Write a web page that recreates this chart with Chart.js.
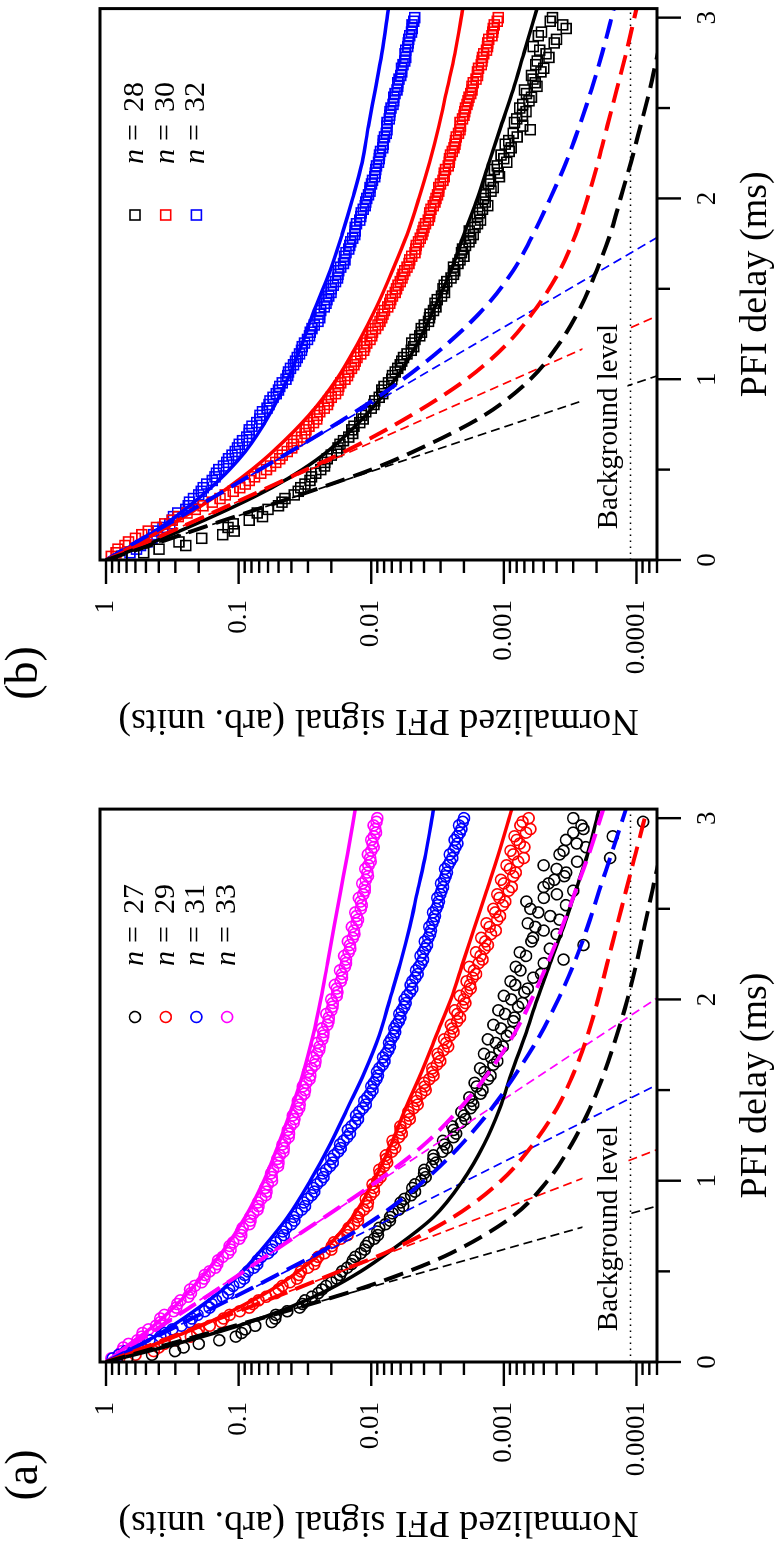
<!DOCTYPE html>
<html>
<head>
<meta charset="utf-8">
<script src="https://cdn.jsdelivr.net/npm/chart.js@4.4.0/dist/chart.umd.min.js"></script>
<style>
  html, body { margin: 0; padding: 0; background: #fff; overflow: hidden; }
  #page { position: absolute; left: 0; top: 0; width: 1544px; height: 775px;
          transform-origin: 0 0; transform: translateY(1544px) rotate(-90deg); }
  #page canvas { position: absolute; top: 0; }
  #chartA { left: 0; }
  #chartB { left: 802px; }
</style>
</head>
<body>
<div id="page">
  <canvas id="chartA" width="742" height="775"></canvas>
  <canvas id="chartB" width="742" height="775"></canvas>
</div>
<script>
// measured PFI delays (ms), two interleaved halves of the scan
const delay = [0.02, 0.06, 0.10, 0.14, 0.18, 0.22, 0.26, 0.30, 0.34, 0.38, 0.42, 0.46, 0.50, 0.54, 0.58,
  0.62, 0.66, 0.70, 0.74, 0.78, 0.82, 0.86, 0.90, 0.94, 0.98, 1.02, 1.06, 1.10, 1.14, 1.18, 1.22, 1.26,
  1.30, 1.34, 1.38, 1.42, 1.46, 1.50, 1.54, 1.58, 1.62, 1.66, 1.70, 1.74, 1.78, 1.82, 1.86, 1.90, 1.94,
  1.98, 2.02, 2.06, 2.10, 2.14, 2.18, 2.22, 2.26, 2.30, 2.34, 2.38, 2.42, 2.46, 2.50, 2.54, 2.58, 2.62,
  2.66, 2.70, 2.74, 2.78, 2.82, 2.86, 2.90, 2.94, 2.98]
const delayMid = [0.04, 0.08, 0.12, 0.16, 0.20, 0.24, 0.28, 0.32, 0.36, 0.40, 0.44, 0.48, 0.52, 0.56, 0.60,
  0.64, 0.68, 0.72, 0.76, 0.80, 0.84, 0.88, 0.92, 0.96, 1.00, 1.04, 1.08, 1.12, 1.16, 1.20, 1.24, 1.28,
  1.32, 1.36, 1.40, 1.44, 1.48, 1.52, 1.56, 1.60, 1.64, 1.68, 1.72, 1.76, 1.80, 1.84, 1.88, 1.92, 1.96,
  2.00, 2.04, 2.08, 2.12, 2.16, 2.20, 2.24, 2.28, 2.32, 2.36, 2.40, 2.44, 2.48, 2.52, 2.56, 2.60, 2.64,
  2.68, 2.72, 2.76, 2.80, 2.84, 2.88, 2.92, 2.96, 3.00]
// delays for the model curves (ms)
const curveDelay = [0, 0.1, 0.2, 0.3, 0.4, 0.5, 0.6, 0.8, 1.0, 1.2, 1.4, 1.6, 1.8, 2.0, 2.2, 2.4, 2.6, 2.8, 3.05]

// panel (a): data n = 27, 29, 31, 33
const a27 = [0.692, 0.302, 0.200, 0.105, 0.0891, 0.0562, 0.0525, 0.0347, 0.0316, 0.0251,
  0.0219, 0.0182, 0.0166, 0.0141, 0.0132, 0.0112, 0.0105, 0.00891, 0.00871, 0.00724,
  0.00692, 0.00575, 0.00562, 0.00468, 0.00468, 0.00389, 0.00398, 0.00324, 0.00339, 0.00269,
  0.00288, 0.00229, 0.00245, 0.00195, 0.00209, 0.00170, 0.00182, 0.00145, 0.00166, 0.00126,
  0.00151, 0.00112, 0.00141, 0.00102, 0.00132, 0.000891, 0.00120, 0.000832, 0.00110, 0.000724,
  0.00100, 0.000661, 0.000891, 0.000525, 0.000813, 0.000355, 0.000759, 0.000251, 0.000603, 0.000501,
  0.000661, 0.000447, 0.000631, 0.000676, 0.000398, 0.000501, 0.000417, 0.000339, 0.000501, 0.000158,
  0.000355, 0.000282, 0.000151, 0.000251, 0.0000891]
const a27Mid = [0.45, 0.26, 0.14, 0.095, 0.075, 0.053, 0.043, 0.033, 0.028, 0.0235,
  0.0200, 0.0172, 0.0152, 0.0138, 0.0120, 0.0110, 0.0095, 0.0090, 0.0078, 0.0072,
  0.0062, 0.0060, 0.0050, 0.0049, 0.0042, 0.0040, 0.0035, 0.0034, 0.0029, 0.0028,
  0.0024, 0.0024, 0.0021, 0.0020, 0.00178, 0.00175, 0.00150, 0.00160, 0.00132, 0.00140,
  0.00120, 0.00125, 0.00108, 0.00115, 0.00095, 0.00105, 0.00085, 0.00098, 0.00078, 0.00088,
  0.00070, 0.00082, 0.00060, 0.00075, 0.00050, 0.00068, 0.00045, 0.00062, 0.00040, 0.00058,
  0.00038, 0.00055, 0.00034, 0.00050, 0.00030, 0.00046, 0.00035, 0.00040, 0.00028, 0.00038,
  0.00024, 0.00034, 0.00030, 0.00026, 0.00030]
const a29 = [0.794, 0.437, 0.363, 0.229, 0.200, 0.135, 0.117, 0.0832, 0.0708, 0.0525,
  0.0468, 0.0363, 0.0339, 0.0269, 0.0251, 0.0200, 0.0191, 0.0151, 0.0148, 0.0126,
  0.0123, 0.0107, 0.0110, 0.00955, 0.00977, 0.00851, 0.00871, 0.00759, 0.00776, 0.00661,
  0.00692, 0.00589, 0.00603, 0.00513, 0.00525, 0.00447, 0.00457, 0.00389, 0.00398, 0.00339,
  0.00347, 0.00302, 0.00316, 0.00263, 0.00282, 0.00240, 0.00251, 0.00214, 0.00234, 0.00195,
  0.00214, 0.00178, 0.00191, 0.00162, 0.00182, 0.00145, 0.00162, 0.00132, 0.00148, 0.00115,
  0.00135, 0.00107, 0.00120, 0.000977, 0.00112, 0.000871, 0.00105, 0.000813, 0.000955, 0.000708,
  0.000891, 0.000759, 0.000832, 0.000631, 0.000724]
const a29Mid = [0.60, 0.40, 0.30, 0.205, 0.165, 0.130, 0.098, 0.078, 0.062, 0.050,
  0.041, 0.0350, 0.0300, 0.0262, 0.0225, 0.0198, 0.0170, 0.0152, 0.0135, 0.0127,
  0.0114, 0.0106, 0.0101, 0.00960, 0.00900, 0.00860, 0.00800, 0.00770, 0.00700, 0.00680,
  0.00620, 0.00600, 0.00550, 0.00520, 0.00480, 0.00455, 0.00420, 0.00395, 0.00365, 0.00345,
  0.00320, 0.00310, 0.00285, 0.00272, 0.00255, 0.00245, 0.00225, 0.00224, 0.00205, 0.00200,
  0.00190, 0.00180, 0.00172, 0.00168, 0.00155, 0.00150, 0.00140, 0.00138, 0.00125, 0.00128,
  0.00112, 0.00116, 0.00102, 0.00108, 0.00092, 0.00100, 0.00085, 0.00090, 0.00078, 0.00085,
  0.00070, 0.00080, 0.00068, 0.00075, 0.00065]
const a31 = [0.891, 0.708, 0.575, 0.389, 0.316, 0.234, 0.204, 0.166, 0.148, 0.120,
  0.110, 0.0912, 0.0851, 0.0724, 0.0676, 0.0562, 0.0525, 0.0457, 0.0437, 0.0380,
  0.0363, 0.0316, 0.0302, 0.0269, 0.0257, 0.0229, 0.0219, 0.0195, 0.0191, 0.0170,
  0.0162, 0.0145, 0.0141, 0.0126, 0.0123, 0.0110, 0.0107, 0.00977, 0.00955, 0.00891,
  0.00871, 0.00794, 0.00776, 0.00724, 0.00708, 0.00661, 0.00646, 0.00603, 0.00589, 0.00550,
  0.00537, 0.00490, 0.00490, 0.00447, 0.00437, 0.00407, 0.00407, 0.00380, 0.00372, 0.00355,
  0.00347, 0.00331, 0.00324, 0.00309, 0.00302, 0.00288, 0.00282, 0.00269, 0.00263, 0.00245,
  0.00240, 0.00224, 0.00224, 0.00209, 0.00204]
const a31Mid = [0.80, 0.62, 0.47, 0.36, 0.27, 0.225, 0.180, 0.160, 0.132, 0.118,
  0.098, 0.090, 0.077, 0.072, 0.060, 0.056, 0.0480, 0.0465, 0.0400, 0.0385,
  0.0335, 0.0322, 0.0282, 0.0272, 0.0240, 0.0232, 0.0205, 0.0200, 0.0178, 0.0172,
  0.0152, 0.0150, 0.0132, 0.0130, 0.0116, 0.0113, 0.0102, 0.0100, 0.00915, 0.00905,
  0.00820, 0.00815, 0.00745, 0.00735, 0.00680, 0.00670, 0.00620, 0.00615, 0.00565, 0.00560,
  0.00510, 0.00505, 0.00465, 0.00460, 0.00420, 0.00425, 0.00392, 0.00395, 0.00360, 0.00365,
  0.00338, 0.00342, 0.00315, 0.00318, 0.00295, 0.00298, 0.00275, 0.00278, 0.00254, 0.00256,
  0.00232, 0.00235, 0.00215, 0.00218, 0.00200]
const a33 = [0.912, 0.759, 0.676, 0.537, 0.479, 0.389, 0.363, 0.295, 0.275, 0.229,
  0.214, 0.182, 0.166, 0.145, 0.132, 0.115, 0.110, 0.0955, 0.0933, 0.0813,
  0.0776, 0.0708, 0.0676, 0.0617, 0.0603, 0.0562, 0.0550, 0.0501, 0.0490, 0.0457,
  0.0447, 0.0417, 0.0407, 0.0380, 0.0363, 0.0347, 0.0339, 0.0316, 0.0309, 0.0288,
  0.0282, 0.0263, 0.0257, 0.0245, 0.0234, 0.0229, 0.0214, 0.0209, 0.0200, 0.0195,
  0.0182, 0.0182, 0.0170, 0.0166, 0.0158, 0.0155, 0.0148, 0.0145, 0.0138, 0.0135,
  0.0129, 0.0129, 0.0120, 0.0120, 0.0115, 0.0112, 0.0110, 0.0107, 0.0105, 0.0102,
  0.0100, 0.00977, 0.00955, 0.00933, 0.00912]
const a33Mid = [0.80, 0.74, 0.58, 0.53, 0.42, 0.39, 0.31, 0.29, 0.24, 0.232,
  0.19, 0.180, 0.150, 0.143, 0.120, 0.117, 0.099, 0.0960, 0.0830, 0.0815,
  0.0720, 0.0715, 0.0625, 0.0630, 0.0560, 0.0570, 0.0505, 0.0510, 0.0460, 0.0466,
  0.0420, 0.0425, 0.0385, 0.0390, 0.0350, 0.0358, 0.0320, 0.0328, 0.0292, 0.0300,
  0.0266, 0.0275, 0.0247, 0.0255, 0.0230, 0.0235, 0.0210, 0.0218, 0.0196, 0.0200,
  0.0180, 0.0188, 0.0166, 0.0172, 0.0155, 0.0160, 0.0144, 0.0150, 0.0134, 0.0140,
  0.0126, 0.0132, 0.0118, 0.0124, 0.0112, 0.0117, 0.0106, 0.0111, 0.0101, 0.0106,
  0.00960, 0.0100, 0.00920, 0.00960, 0.00900]

// panel (a): solid curves
const a27Fit = [1, 0.295, 0.100, 0.0417, 0.0209, 0.0120, 0.00759, 0.00339, 0.00204, 0.00141,
  0.00107, 0.000871, 0.000692, 0.000562, 0.000447, 0.000355, 0.000288, 0.000234, 0.000191]
const a29Fit = [1, 0.417, 0.191, 0.100, 0.0562, 0.0355, 0.0240, 0.0138, 0.00955, 0.00708,
  0.00550, 0.00417, 0.00324, 0.00251, 0.00204, 0.00166, 0.00135, 0.00110, 0.000871]
const a31Fit = [1, 0.537, 0.316, 0.200, 0.132, 0.0933, 0.0708, 0.0427, 0.0288, 0.0204,
  0.0151, 0.0112, 0.00871, 0.00724, 0.00603, 0.00513, 0.00447, 0.00389, 0.00339]
const a33Fit = [1, 0.661, 0.437, 0.309, 0.229, 0.174, 0.135, 0.0891, 0.0646, 0.0501,
  0.0398, 0.0324, 0.0275, 0.0240, 0.0214, 0.0191, 0.0170, 0.0151, 0.0132]
// panel (a): thick dashed curves
const a27Model = [1, 0.331, 0.107, 0.0355, 0.0126, 0.00525, 0.00251, 0.000871, 0.000468, 0.000309,
  0.000224, 0.000174, 0.000141, 0.000117, 0.000100, 0.0000871, 0.0000759, 0.0000661, 0.0000562]
const a29Model = [1, 0.437, 0.195, 0.0851, 0.0380, 0.0174, 0.00794, 0.00240, 0.00105, 0.000603,
  0.000398, 0.000295, 0.000234, 0.000195, 0.000166, 0.000141, 0.000120, 0.000102, 0.0000832]
const a31Model = [1, 0.537, 0.288, 0.155, 0.0832, 0.0457, 0.0251, 0.00891, 0.00398, 0.00209,
  0.00123, 0.000794, 0.000537, 0.000389, 0.000295, 0.000234, 0.000191, 0.000155, 0.000120]
const a33Model = [1, 0.617, 0.380, 0.234, 0.145, 0.0912, 0.0575, 0.0224, 0.00891, 0.00398,
  0.00214, 0.00129, 0.000851, 0.000617, 0.000468, 0.000363, 0.000288, 0.000229, 0.000178]
// panel (a): thin dashed initial decays (start and end)
const a27InitX = [0, 0.9], a27Init = [1, 0.000045]
const a29InitX = [0, 1.22], a29Init = [1, 0.000047]
const a31InitX = [0, 1.6], a31Init = [1, 0.000045]
const a33InitX = [0, 2.1], a33Init = [1, 0.000045]

// panel (b): data n = 28, 30, 32
const b28 = [0.759, 0.398, 0.282, 0.132, 0.120, 0.0832, 0.0724, 0.0501, 0.0447, 0.0355,
  0.0316, 0.0282, 0.0240, 0.0224, 0.0200, 0.0178, 0.0162, 0.0138, 0.0135, 0.0115,
  0.0110, 0.00955, 0.00871, 0.00832, 0.00741, 0.00692, 0.00631, 0.00589, 0.00537, 0.00479,
  0.00468, 0.00417, 0.00398, 0.00363, 0.00339, 0.00331, 0.00295, 0.00288, 0.00269, 0.00240,
  0.00240, 0.00214, 0.00209, 0.00195, 0.00178, 0.00182, 0.00158, 0.00158, 0.00145, 0.00138,
  0.00138, 0.00120, 0.00126, 0.00110, 0.00112, 0.00100, 0.000912, 0.000977, 0.000794, 0.000631,
  0.000832, 0.000724, 0.000759, 0.000646, 0.000676, 0.000562, 0.000603, 0.000525, 0.000575, 0.000457,
  0.000537, 0.000417, 0.000550, 0.000339, 0.000447]
const b28Mid = [0.52, 0.25, 0.19, 0.108, 0.110, 0.066, 0.0600, 0.0470, 0.0380, 0.0340,
  0.0290, 0.0262, 0.0225, 0.0215, 0.0182, 0.0172, 0.0148, 0.0140, 0.0122, 0.0118,
  0.0100, 0.00940, 0.00820, 0.00800, 0.00700, 0.00660, 0.00605, 0.00570, 0.00500, 0.00495,
  0.00430, 0.00420, 0.00370, 0.00360, 0.00325, 0.00318, 0.00280, 0.00282, 0.00250, 0.00235,
  0.00222, 0.00200, 0.00205, 0.00183, 0.00170, 0.00165, 0.00150, 0.00152, 0.00132, 0.00142,
  0.00125, 0.00130, 0.00108, 0.00118, 0.00095, 0.00105, 0.00088, 0.00092, 0.00085, 0.00072,
  0.00080, 0.00068, 0.00072, 0.00062, 0.00070, 0.00058, 0.00062, 0.00050, 0.00056, 0.00048,
  0.00060, 0.00040, 0.00052, 0.00036, 0.00043]
const b30 = [0.912, 0.813, 0.676, 0.537, 0.417, 0.316, 0.245, 0.186, 0.138, 0.110,
  0.0891, 0.0759, 0.0617, 0.0525, 0.0468, 0.0398, 0.0363, 0.0316, 0.0295, 0.0257,
  0.0245, 0.0214, 0.0200, 0.0178, 0.0170, 0.0151, 0.0141, 0.0132, 0.0120, 0.0112,
  0.0102, 0.00977, 0.00891, 0.00832, 0.00794, 0.00724, 0.00692, 0.00646, 0.00603, 0.00575,
  0.00537, 0.00513, 0.00468, 0.00457, 0.00427, 0.00407, 0.00389, 0.00363, 0.00355, 0.00331,
  0.00316, 0.00309, 0.00288, 0.00282, 0.00263, 0.00257, 0.00245, 0.00234, 0.00229, 0.00214,
  0.00214, 0.00200, 0.00195, 0.00186, 0.00178, 0.00174, 0.00162, 0.00158, 0.00148, 0.00145,
  0.00135, 0.00132, 0.00123, 0.00120, 0.00112]
const b30Mid = [0.84, 0.72, 0.60, 0.48, 0.36, 0.285, 0.212, 0.158, 0.126, 0.098,
  0.0830, 0.0680, 0.0575, 0.0490, 0.0430, 0.0385, 0.0335, 0.0310, 0.0272, 0.0255,
  0.0226, 0.0210, 0.0186, 0.0176, 0.0158, 0.0148, 0.0135, 0.0128, 0.0114, 0.0108,
  0.00990, 0.00930, 0.00860, 0.00815, 0.00750, 0.00712, 0.00660, 0.00628, 0.00585, 0.00560,
  0.00520, 0.00495, 0.00462, 0.00440, 0.00415, 0.00400, 0.00372, 0.00362, 0.00340, 0.00325,
  0.00310, 0.00300, 0.00282, 0.00275, 0.00258, 0.00253, 0.00238, 0.00232, 0.00220, 0.00212,
  0.00205, 0.00197, 0.00190, 0.00183, 0.00174, 0.00170, 0.00158, 0.00155, 0.00146, 0.00142,
  0.00133, 0.00130, 0.00121, 0.00118, 0.00110]
const b32 = [0.759, 0.589, 0.490, 0.437, 0.372, 0.316, 0.288, 0.240, 0.219, 0.191,
  0.174, 0.151, 0.141, 0.123, 0.112, 0.102, 0.0933, 0.0832, 0.0794, 0.0692,
  0.0661, 0.0589, 0.0550, 0.0501, 0.0468, 0.0427, 0.0407, 0.0372, 0.0347, 0.0331,
  0.0302, 0.0288, 0.0269, 0.0245, 0.0240, 0.0219, 0.0209, 0.0200, 0.0186, 0.0178,
  0.0170, 0.0158, 0.0155, 0.0145, 0.0138, 0.0132, 0.0129, 0.0120, 0.0115, 0.0110,
  0.0105, 0.0102, 0.00977, 0.00933, 0.00912, 0.00871, 0.00851, 0.00813, 0.00794, 0.00759,
  0.00759, 0.00724, 0.00708, 0.00676, 0.00661, 0.00631, 0.00617, 0.00589, 0.00575, 0.00550,
  0.00550, 0.00525, 0.00513, 0.00490, 0.00479]
const b32Mid = [0.66, 0.55, 0.45, 0.41, 0.33, 0.31, 0.25, 0.235, 0.20, 0.185,
  0.158, 0.147, 0.130, 0.119, 0.106, 0.0990, 0.0870, 0.0830, 0.0730, 0.0690,
  0.0610, 0.0580, 0.0520, 0.0490, 0.0440, 0.0420, 0.0385, 0.0362, 0.0335, 0.0318,
  0.0292, 0.0280, 0.0252, 0.0246, 0.0226, 0.0216, 0.0201, 0.0193, 0.0180, 0.0176,
  0.0162, 0.0159, 0.0148, 0.0143, 0.0133, 0.0132, 0.0122, 0.0119, 0.0111, 0.0108,
  0.0102, 0.00995, 0.00940, 0.00925, 0.00880, 0.00868, 0.00820, 0.00810, 0.00770, 0.00765,
  0.00730, 0.00722, 0.00685, 0.00675, 0.00640, 0.00630, 0.00598, 0.00590, 0.00560, 0.00556,
  0.00530, 0.00522, 0.00498, 0.00492, 0.00470]

// panel (b): solid curves
const b28Fit = [1, 0.437, 0.209, 0.105, 0.0562, 0.0331, 0.0214, 0.0110, 0.00661, 0.00447,
  0.00331, 0.00251, 0.00200, 0.00158, 0.00129, 0.00105, 0.000851, 0.000708, 0.000562]
const b30Fit = [1, 0.550, 0.316, 0.191, 0.120, 0.0794, 0.0550, 0.0295, 0.0182, 0.0126,
  0.00912, 0.00692, 0.00537, 0.00437, 0.00363, 0.00309, 0.00269, 0.00234, 0.00204]
const b32Fit = [1, 0.575, 0.355, 0.234, 0.162, 0.117, 0.0891, 0.0589, 0.0427, 0.0331,
  0.0263, 0.0204, 0.0166, 0.0138, 0.0117, 0.0105, 0.00933, 0.00832, 0.00741]
// panel (b): thick dashed curves
const b28Model = [1, 0.389, 0.155, 0.0603, 0.0240, 0.0100, 0.00479, 0.00141, 0.000631, 0.000380,
  0.000263, 0.000200, 0.000158, 0.000132, 0.000110, 0.0000933, 0.0000794, 0.0000692, 0.0000575]
const b30Model = [1, 0.490, 0.240, 0.120, 0.0603, 0.0309, 0.0158, 0.00501, 0.00191, 0.000933,
  0.000562, 0.000380, 0.000288, 0.000234, 0.000195, 0.000166, 0.000141, 0.000120, 0.000100]
const b32Model = [1, 0.589, 0.339, 0.200, 0.117, 0.0692, 0.0407, 0.0145, 0.00575, 0.00263,
  0.00138, 0.000851, 0.000603, 0.000447, 0.000339, 0.000269, 0.000219, 0.000182, 0.000148]
// panel (b): thin dashed initial decays
const b28InitX = [0, 1.05], b28Init = [1, 0.000052]
const b30InitX = [0, 1.4], b30Init = [1, 0.000049]
const b32InitX = [0, 1.85], b32Init = [1, 0.000049]

const background = 0.000111
const yTickValues = [1, 0.1, 0.01, 0.001, 0.0001]
const yTickLabels = ["1", "0.1", "0.01", "0.001", "0.0001"]
const xTickValues = [0, 1, 2, 3]

const BLACK = "#000000", RED = "#ff0000", BLUE = "#0000ff", MAGENTA = "#ff00ff"
const SERIF = "'Liberation Serif', 'Times New Roman', serif"
Chart.defaults.font.family = SERIF
Chart.defaults.color = "#000"

function pts(xs, ys) {
  return xs.map((x, i) => ({ x: x, y: ys[i] }))
}

function markers(ys, ysMid, color, style) {
  return {
    data: pts(delay, ys).concat(pts(delayMid, ysMid)), showLine: false, pointStyle: style,
    pointRadius: style === "rect" ? 7 : 5.5, pointBorderWidth: 1.6,
    borderColor: color, backgroundColor: "rgba(0,0,0,0)", order: 3
  }
}

function curve(xs, ys, color, width, dash) {
  return {
    data: pts(xs, ys), showLine: true, pointRadius: 0, borderColor: color,
    borderWidth: width, borderDash: dash, cubicInterpolationMode: "monotone",
    fill: false, order: dash.length && width < 2 ? 2 : 1
  }
}

const framePlugin = {
  id: "frame",
  afterDatasetsDraw(chart, args, opts) {
    const { ctx, scales: { x, y } } = chart
    ctx.save()
    ctx.font = "29px " + SERIF
    const text = "Background level"
    const tx = x.getPixelForValue(0.17)
    const ty = y.getPixelForValue(background) - 13
    const w = ctx.measureText(text).width
    ctx.fillStyle = "#fff"
    ctx.fillRect(tx - 3, ty - 35, w + 6, 45)
    ctx.fillStyle = "#000"
    ctx.textBaseline = "alphabetic"
    ctx.fillText(text, tx, ty)
    ctx.restore()
  },
  afterDraw(chart, args, opts) {
    const { ctx, chartArea: area, scales: { x, y } } = chart
    ctx.save()
    ctx.strokeStyle = "#000"
    ctx.lineWidth = 2.4
    const tick = (x1, y1, x2, y2) => {
      ctx.beginPath(); ctx.moveTo(x1, y1); ctx.lineTo(x2, y2); ctx.stroke()
    }
    for (let e = -5; e <= 0; e++) {
      for (let m = 1; m <= 9; m++) {
        const v = m * Math.pow(10, e)
        if (v < y.min || v > y.max) continue
        const p = y.getPixelForValue(v)
        tick(area.left, p, area.left - (m === 1 ? 24 : 13), p)
      }
    }
    for (let v = 0; v <= 3; v += 0.5) {
      const p = x.getPixelForValue(v)
      tick(p, area.bottom, p, area.bottom + (v % 1 === 0 ? 24 : 13))
    }
    ctx.lineWidth = 3
    ctx.strokeRect(area.left, area.top, area.right - area.left, area.bottom - area.top)

    // legend
    opts.legend.forEach((item, i) => {
      const cy = area.top + 35 + i * 30.7
      const sx = area.left + 345
      ctx.strokeStyle = item.color
      ctx.lineWidth = 1.6
      if (opts.marker === "rect") {
        ctx.strokeRect(sx - 5, cy - 5, 10, 10)
      } else {
        ctx.beginPath(); ctx.arc(sx, cy, 5.5, 0, 2 * Math.PI); ctx.stroke()
      }
      const tx = area.left + 396
      ctx.fillStyle = "#000"
      ctx.textBaseline = "middle"
      ctx.textAlign = "left"
      ctx.font = "italic 30px " + SERIF
      ctx.fillText("n", tx, cy)
      ctx.font = "30px " + SERIF
      ctx.fillText("=", tx + 23, cy)
      ctx.fillText(item.n, tx + 52, cy)
    })

    ctx.font = "46px " + SERIF
    ctx.textAlign = "center"
    ctx.textBaseline = "middle"
    ctx.fillStyle = "#000"
    ctx.fillText(opts.label, 69, 25)
    ctx.restore()
  }
}

function makeChart(id, datasets, label, marker, legend) {
  datasets.push({
    data: pts([0, 3.05], [background, background]), showLine: true, pointRadius: 0,
    borderColor: "#000", borderWidth: 1.5, borderDash: [1.5, 4.5], order: 2
  })
  return new Chart(document.getElementById(id), {
    type: "scatter",
    data: { datasets: datasets },
    options: {
      responsive: false,
      animation: false,
      devicePixelRatio: 1,
      events: [],
      layout: { padding: { top: 100, right: 3, left: 0, bottom: 0 } },
      plugins: {
        legend: { display: false },
        tooltip: { enabled: false },
        frame: { label: label, marker: marker, legend: legend }
      },
      scales: {
        x: {
          type: "linear", min: 0, max: 3.05,
          grid: { display: false, drawTicks: false },
          border: { display: false },
          afterBuildTicks: (s) => { s.ticks = xTickValues.map(v => ({ value: v })) },
          afterFit: (s) => { s.height = 118; s.paddingLeft = 0; s.paddingRight = 0 },
          ticks: { font: { size: 27 }, padding: 35, maxRotation: 0, autoSkip: false,
                   callback: (v) => String(v) },
          title: { display: true, text: "PFI delay (ms)", font: { size: 38, lineHeight: 1 },
                   padding: { top: 0, bottom: 0 } }
        },
        y: {
          type: "logarithmic", min: 0.00007, max: 1.11,
          grid: { display: false, drawTicks: false },
          border: { display: false },
          afterBuildTicks: (s) => { s.ticks = yTickValues.map(v => ({ value: v })) },
          afterFit: (s) => { s.width = 182; s.paddingTop = 0; s.paddingBottom = 0 },
          ticks: { font: { size: 27 }, padding: 40, autoSkip: false,
                   callback: (v, i) => yTickLabels[i] },
          title: { display: true, text: "Normalized PFI signal (arb. units)",
                   font: { size: 38, lineHeight: 1 }, padding: { top: 3, bottom: 0 } }
        }
      }
    },
    plugins: [framePlugin]
  })
}

const THICK = [20, 9], THIN = [9, 5]

makeChart("chartA", [
  markers(a27, a27Mid, BLACK, "circle"), markers(a29, a29Mid, RED, "circle"),
  markers(a31, a31Mid, BLUE, "circle"), markers(a33, a33Mid, MAGENTA, "circle"),
  curve(a27InitX, a27Init, BLACK, 1.7, THIN), curve(a29InitX, a29Init, RED, 1.7, THIN),
  curve(a31InitX, a31Init, BLUE, 1.7, THIN), curve(a33InitX, a33Init, MAGENTA, 1.7, THIN),
  curve(curveDelay, a27Model, BLACK, 4, THICK), curve(curveDelay, a29Model, RED, 4, THICK),
  curve(curveDelay, a31Model, BLUE, 4, THICK), curve(curveDelay, a33Model, MAGENTA, 4, THICK),
  curve(curveDelay, a27Fit, BLACK, 3.5, []), curve(curveDelay, a29Fit, RED, 3.5, []),
  curve(curveDelay, a31Fit, BLUE, 3.5, []), curve(curveDelay, a33Fit, MAGENTA, 3.5, [])
], "(a)", "circle", [
  { n: "27", color: BLACK }, { n: "29", color: RED }, { n: "31", color: BLUE }, { n: "33", color: MAGENTA }
])

makeChart("chartB", [
  markers(b28, b28Mid, BLACK, "rect"), markers(b30, b30Mid, RED, "rect"), markers(b32, b32Mid, BLUE, "rect"),
  curve(b28InitX, b28Init, BLACK, 1.7, THIN), curve(b30InitX, b30Init, RED, 1.7, THIN),
  curve(b32InitX, b32Init, BLUE, 1.7, THIN),
  curve(curveDelay, b28Model, BLACK, 4, THICK), curve(curveDelay, b30Model, RED, 4, THICK),
  curve(curveDelay, b32Model, BLUE, 4, THICK),
  curve(curveDelay, b28Fit, BLACK, 3.5, []), curve(curveDelay, b30Fit, RED, 3.5, []),
  curve(curveDelay, b32Fit, BLUE, 3.5, [])
], "(b)", "rect", [
  { n: "28", color: BLACK }, { n: "30", color: RED }, { n: "32", color: BLUE }
])
</script>
</body>
</html>
